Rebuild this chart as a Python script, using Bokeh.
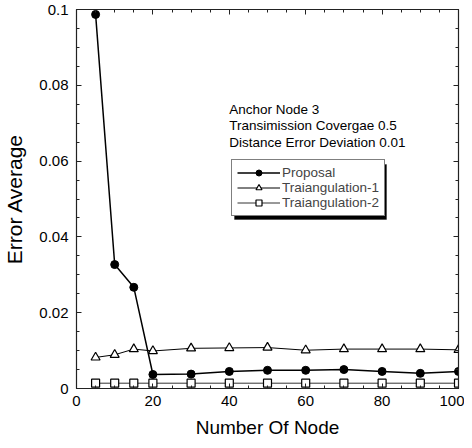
from bokeh.plotting import figure
from bokeh.models import (LinearAxis, FixedTicker, CustomJSTickFormatter, Range1d,
                          Legend, LegendItem, Label, BoxAnnotation)
from bokeh.embed import file_html
from bokeh.resources import INLINE

# ---- data ----
nodes = [5, 10, 15, 20, 30, 40, 50, 60, 70, 80, 90, 100]
proposal = [0.0987, 0.0327, 0.0267, 0.0037, 0.0038, 0.0045, 0.0048, 0.0048, 0.0050, 0.0045, 0.0040, 0.0045]
tri1 = [0.0082, 0.0089, 0.0104, 0.0099, 0.0106, 0.0107, 0.0108, 0.0101, 0.0104, 0.0104, 0.0104, 0.0102]
tri2 = [0.0014, 0.0014, 0.0014, 0.0014, 0.0014, 0.0014, 0.0014, 0.0014, 0.0014, 0.0014, 0.0014, 0.0014]
series_names = ["Proposal", "Traiangulation-1", "Traiangulation-2"]
notes = ["Anchor Node 3", "Transimission Covergae 0.5", "Distance Error Deviation 0.01"]
x_ticks = [0, 20, 40, 60, 80, 100]
y_ticks = [0, 0.02, 0.04, 0.06, 0.08, 0.1]

FONT = "Liberation Sans"

p = figure(width=464, height=440, output_backend="svg", toolbar_location=None,
           x_range=Range1d(0, 100), y_range=Range1d(0, 0.1),
           x_axis_label="Number Of Node", y_axis_label="Error Average",
           min_border_left=74, min_border_right=6, min_border_top=9, min_border_bottom=50)
p.grid.visible = False
p.outline_line_color = "black"
p.background_fill_color = "white"
p.border_fill_color = "white"

xminor = list(range(0, 101, 5))
yminor = [i * 0.005 for i in range(0, 21)]
fmt = CustomJSTickFormatter(code="return tick == 0 ? '0' : parseFloat(tick.toFixed(4)).toString();")

def style(ax, labels=True):
    ax.axis_line_color = "#222222"
    ax.axis_line_width = 1.2
    ax.major_tick_in = 5
    ax.major_tick_out = 0
    ax.minor_tick_in = 3
    ax.minor_tick_out = 0
    ax.major_tick_line_color = "#222222"
    ax.minor_tick_line_color = "#222222"
    if labels:
        ax.major_label_text_font = FONT
        ax.major_label_text_font_size = "15px"
        ax.major_label_text_color = "black"
        ax.axis_label_text_font = FONT
        ax.axis_label_text_font_style = "normal"
        ax.axis_label_text_color = "black"
    else:
        ax.major_label_text_font_size = "0px"
        ax.major_label_standoff = 0

xa = p.xaxis[0]
xa.ticker = FixedTicker(ticks=x_ticks, minor_ticks=xminor)
style(xa)
xa.axis_label_text_font_size = "19px"
xa.major_label_standoff = 7
xa.axis_label_standoff = 8

ya = p.yaxis[0]
ya.ticker = FixedTicker(ticks=y_ticks, minor_ticks=yminor)
ya.formatter = fmt
style(ya)
ya.axis_label_text_font_size = "21px"
ya.major_label_standoff = 8
ya.axis_label_standoff = 10

top = LinearAxis(ticker=FixedTicker(ticks=x_ticks, minor_ticks=xminor))
style(top, labels=False)
p.add_layout(top, "above")
right = LinearAxis(ticker=FixedTicker(ticks=y_ticks, minor_ticks=yminor))
style(right, labels=False)
p.add_layout(right, "right")

# series
l1 = p.line(nodes, proposal, line_color="black", line_width=1.5)
s1 = p.scatter(nodes, proposal, marker="circle", size=8, fill_color="black", line_color="black")
l2 = p.line(nodes, tri1, line_color="black", line_width=1)
s2 = p.scatter(nodes, tri1, marker="triangle", size=9, fill_color="white", line_color="black", line_width=1.2)
l3 = p.line(nodes, tri2, line_color="#333333", line_width=1)
s3 = p.scatter(nodes, tri2, marker="square", size=8, fill_color="white", line_color="black", line_width=1.2)

# notes
for i, t in enumerate(notes):
    p.add_layout(Label(x=40, y=0.0737 - i * 0.0044, text=t, text_font=FONT,
                       text_font_size="13.5px", text_color="black", text_baseline="alphabetic"))

# legend shadow
shadow = BoxAnnotation(left=158, right=310, bottom=169, top=224,
                       left_units="screen", right_units="screen",
                       bottom_units="screen", top_units="screen",
                       fill_color="black", fill_alpha=1, line_color="black")
p.add_layout(shadow)

legend = Legend(items=[LegendItem(label=series_names[0], renderers=[l1, s1]),
                       LegendItem(label=series_names[1], renderers=[l2, s2]),
                       LegendItem(label=series_names[2], renderers=[l3, s3])],
                location=(155, 172))
legend.label_text_font = FONT
legend.label_text_font_size = "13.5px"
legend.label_height = 15
legend.glyph_height = 15
legend.glyph_width = 43
legend.label_standoff = 2
legend.spacing = 0
legend.padding = 5
legend.margin = 0
legend.border_line_color = "black"
legend.border_line_width = 1.2
legend.background_fill_color = "white"
legend.background_fill_alpha = 1
p.add_layout(legend, "center")

open("out.html", "w").write(file_html(p, INLINE))
